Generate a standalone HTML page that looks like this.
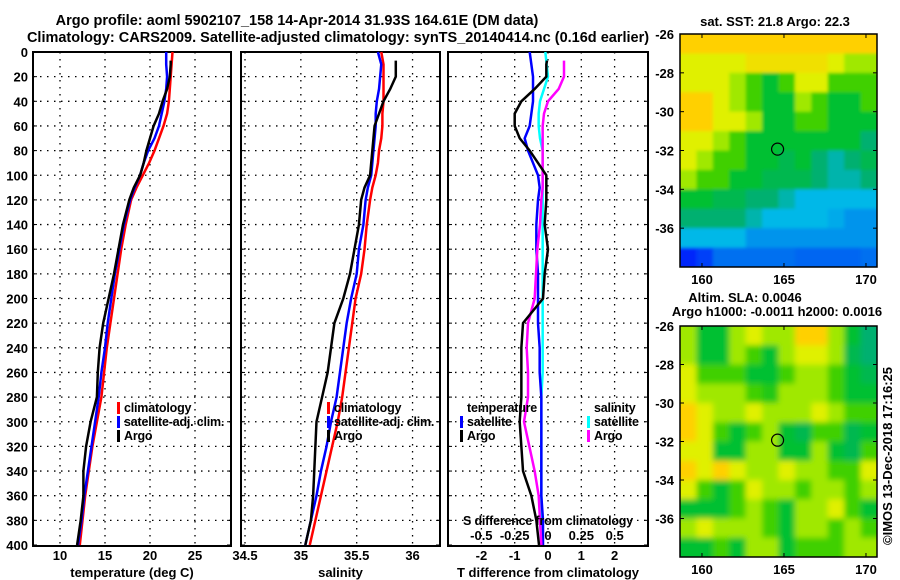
<!DOCTYPE html>
<html><head><meta charset="utf-8"><style>
html,body{margin:0;padding:0;background:#fff;}
svg{display:block;font-family:"Liberation Sans",sans-serif;font-weight:bold;}
text{font-size:13px;fill:#000;}
.lg{font-size:12.5px;letter-spacing:-0.2px;}
.tt{font-size:14.5px;}
</style></head><body>
<svg id="chart" width="900" height="580" viewBox="0 0 900 580">
<defs><filter id="blur2" x="-10%" y="-10%" width="120%" height="120%"><feGaussianBlur stdDeviation="3"/></filter>
<filter id="blur1" x="-10%" y="-10%" width="120%" height="120%"><feGaussianBlur stdDeviation="1.5"/></filter>
<clipPath id="clipm1"><rect x="680" y="34" width="197" height="233"/></clipPath>
<clipPath id="clipm2"><rect x="680" y="326" width="197" height="231"/></clipPath></defs>
<text class="tt" x="297" y="25" text-anchor="middle">Argo profile: aoml 5902107_158 14-Apr-2014 31.93S 164.61E (DM data)</text>
<text class="tt" x="338" y="42" text-anchor="middle">Climatology: CARS2009. Satellite-adjusted climatology: synTS_20140414.nc (0.16d earlier)</text>
<g id="layer"></g>
</svg>
<script>
// ---- data ----
const depths = [0,10,20,30,40,50,60,70,80,90,100,110,120,140,160,180,200,220,240,260,280,300,320,340,360,380,400];
const argoDepths = [7,10,20,30,40,50,60,70,80,90,100,110,120,140,160,180,200,220,240,260,280,300,320,340,360,380,400];
const tempClim = [22.5,22.4,22.3,22.2,22.1,21.9,21.5,21.0,20.5,19.9,19.2,18.5,17.9,17.3,16.8,16.4,16.0,15.6,15.2,14.9,14.6,14.1,13.6,13.2,12.8,12.5,12.2];
const tempSat = [21.8,21.8,21.9,21.8,21.6,21.3,21.0,20.5,19.8,19.3,18.9,18.3,17.8,17.1,16.6,16.1,15.7,15.3,15.0,14.6,14.3,13.9,13.5,13.1,12.7,12.4,12.0];
const tempArgo = [22.3,22.3,22.2,21.9,21.4,21.0,20.4,20.0,19.6,19.3,18.9,18.2,17.7,17.0,16.5,16.0,15.4,14.8,14.4,14.2,14.1,13.4,12.9,12.6,12.6,12.3,11.9];
const salClim = [35.72,35.74,35.74,35.74,35.74,35.73,35.73,35.72,35.70,35.69,35.67,35.64,35.62,35.59,35.57,35.54,35.49,35.46,35.43,35.40,35.37,35.33,35.28,35.23,35.18,35.13,35.08];
const salSat = [35.69,35.72,35.71,35.70,35.68,35.67,35.67,35.66,35.65,35.64,35.63,35.60,35.58,35.56,35.52,35.50,35.45,35.41,35.38,35.35,35.32,35.27,35.23,35.18,35.14,35.09,35.04];
const salArgo = [35.85,35.85,35.85,35.80,35.74,35.70,35.66,35.65,35.64,35.63,35.62,35.57,35.54,35.52,35.48,35.44,35.38,35.30,35.27,35.24,35.19,35.14,35.13,35.12,35.11,35.09,35.04];
const dTSat = [-0.55,-0.5,-0.45,-0.45,-0.45,-0.5,-0.55,-0.7,-0.6,-0.45,-0.3,-0.25,-0.3,-0.35,-0.35,-0.3,-0.3,-0.3,-0.25,-0.25,-0.2,-0.2,-0.2,-0.2,-0.2,-0.15,-0.15];
const dTArgo = [-0.03,-0.05,-0.05,-0.4,-0.8,-1.0,-1.0,-0.85,-0.55,-0.3,-0.05,-0.05,-0.05,-0.1,0,-0.1,-0.15,-0.75,-0.8,-0.8,-0.8,-0.85,-0.8,-0.75,-0.5,-0.35,-0.27];
const dSSat = [-0.02,-0.01,0,-0.03,-0.06,-0.07,-0.07,-0.06,-0.04,-0.04,-0.04,-0.04,-0.04,-0.04,-0.04,-0.04,-0.04,-0.04,-0.04,-0.04,-0.05,-0.05,-0.05,-0.05,-0.05,-0.05,-0.05];
const dSArgo = [0.12,0.12,0.12,0.08,0.0,-0.03,-0.04,-0.04,-0.04,-0.04,-0.04,-0.04,-0.05,-0.06,-0.08,-0.09,-0.1,-0.15,-0.16,-0.15,-0.15,-0.18,-0.14,-0.1,-0.07,-0.06,-0.05];
const depthTicks = [0,20,40,60,80,100,120,140,160,180,200,220,240,260,280,300,320,340,360,380,400];
const tempTicks = [10,15,20,25];
const salTicks = [34.5,35,35.5,36];
const salTickLabels = ["34.5","35","35.5","36"];
const dTTicks = [-2,-1,0,1,2];
const dSTicks = [-0.5,-0.25,0,0.25,0.5];
const dSTickLabels = ["-0.5","-0.25","0","0.25","0.5"];
const latTicks = [-26,-28,-30,-32,-34,-36];
const lonTicks = [160,165,170];
const sstGrid = [
[9,9,9,9,9,9,9,9,9,9,9,9],
[8,8,8,8,8.5,8.5,8.5,8.5,8.5,8,7,7],
[8,8,8,7,6,5,6,8,8,6,6,6],
[9,9,8,7,6,5,5,7,6,5,5,6],
[9,9,8,8,7,5,5,6,6,5,5,5],
[8,8,7,6,5,5,5,5,5,5,5,4],
[8,7,6,6,5,5,4.5,5,4,3.5,4,4.5],
[7,6,6,5,5,4.5,4.5,4.5,4,3.5,3.5,4],
[5,5,4.5,4.5,4,4,3.5,3,3,3,3,3],
[4,4,4,4,3.5,3,3,3,3,2.8,2.5,2.5],
[3,3,3,3,2.5,2.5,2.5,2.5,2.5,2.5,2.5,2.5],
[0.5,1,2,2,2,2,2,1.8,1.8,1.8,1.8,2]];
const slaGrid = [
[7,5,5,7,8,7,7,9,9,7,5,4],
[7,5,5,7,6,5,7,8,8,7,4.5,4],
[8,6,6,6,5,5,6,7,7,6,5,4.5],
[8,7,7,7,6,5.5,7,7,7,6,5,5],
[9,8,7,7,8,7,7,7,8,7,6,6],
[9,8,6,5,6,7,5,4.5,6,6,4.5,5],
[8,8,5,5,7,7,5,5,7,5,4.5,6],
[9,8,9,8,7,7,8,7,7,6,6,8],
[8,6,5,6,8,7,7,6,7,7,6,7],
[5,5,5,6,7,6,5,7,7,8,6,5],
[7,8,7,7,7,6,5,7,7,6,7,6],
[5,5,6,5,7,7,5,6,6,6,7,7]];

// ---- drawing ----
const NS='http://www.w3.org/2000/svg';
const layer=document.getElementById('layer');
function mk(tag,attrs,parent){const e=document.createElementNS(NS,tag);for(const k in attrs)e.setAttribute(k,attrs[k]);(parent||layer).appendChild(e);return e;}
function txt(x,y,s,anchor,parent){const t=mk('text',{x:x,y:y,'text-anchor':anchor||'start'},parent);t.textContent=s;return t;}
const yD=d=>52+d*1.2325;
const xT=t=>60+(t-10)*9;
const xS=s=>245+(s-34.5)*111.7;
const xdT=t=>548+t*33.3;
const xdS=s=>548+s*133.3;

function panel(name,x0,x1,xticks,xfn,labels,title){
  const g=mk('g',{});
  
  
  depthTicks.forEach(d=>{if(d>0&&d<400){mk('line',{x1:x0,x2:x1,y1:yD(d),y2:yD(d),stroke:'#000','stroke-dasharray':'1.5,5.5','stroke-width':1.3},g);}
    mk('line',{x1:x0,x2:x0+4,y1:yD(d),y2:yD(d),stroke:'#000'},g);mk('line',{x1:x1-4,x2:x1,y1:yD(d),y2:yD(d),stroke:'#000'},g);});
  xticks.forEach((v,i)=>{const x=xfn(v);mk('line',{x1:x,x2:x,y1:52,y2:546,stroke:'#000','stroke-dasharray':'1.5,5.5','stroke-width':1.3},g);
    if(labels){const t=txt(x,560,labels[i],'middle',g);}});
  mk('rect',{x:x0,y:52,width:x1-x0,height:494,fill:'none',stroke:'#000','stroke-width':2},g);
  const tt=txt((x0+x1)/2,577,title,'middle',g);
  
  
  return g;
}
function line(name,xs,ds,xfn,color,w){
  const p=mk('polyline',{points:xs.map((v,i)=>xfn(v)+','+yD(ds[i])).join(' '),fill:'none',stroke:color,'stroke-width':w||2.5});
  
  
}
depthTicks.forEach(d=>{const t=txt(28,yD(d)+5,String(d),'end');});

panel('temperature-panel',33,231,tempTicks,xT,tempTicks.map(String),'temperature (deg C)');
line('temp-climatology',tempClim,depths,xT,'#f00');
line('temp-satellite-adj',tempSat,depths,xT,'#00f');
line('temp-argo',tempArgo,argoDepths,xT,'#000');
panel('salinity-panel',241,440,salTicks,xS,salTickLabels,'salinity');
line('sal-climatology',salClim,depths,xS,'#f00');
line('sal-satellite-adj',salSat,depths,xS,'#00f');
line('sal-argo',salArgo,argoDepths,xS,'#000');
panel('difference-panel',448,648,dTTicks,xdT,dTTicks.map(String),'T difference from climatology');
line('dS-satellite',dSSat,depths,xdS,'#0ff');
line('dT-satellite',dTSat,depths,xdT,'#00f');
line('dS-argo',dSArgo,argoDepths,xdS,'#f0f');
line('dT-argo',dTArgo,argoDepths,xdT,'#000');

function legend(name,x,y,items){
  const g=mk('g',{class:'lg'});
  
  
  items.forEach((it,i)=>{const yy=y+i*14;
    if(it[1])mk('rect',{x:x,y:yy-10,width:3,height:12,fill:it[1]},g);
    const t=txt(x+7,yy,it[0],'start',g);t.setAttribute('class','lg');});
}
legend('temp-legend',117,412,[['climatology','#f00'],['satellite-adj. clim.','#00f'],['Argo','#000']]);
legend('sal-legend',327,412,[['climatology','#f00'],['satellite-adj. clim.','#00f'],['Argo','#000']]);
legend('dT-legend',460,412,[['temperature',null],['satellite','#00f'],['Argo','#000']]);
legend('dS-legend',587,412,[['salinity',null],['satellite','#0ff'],['Argo','#f0f']]);
const sd=txt(548,525,'S difference from climatology','middle');sd.setAttribute('class','lg');
dSTicks.forEach((v,i)=>{const t=txt(xdS(v),540,dSTickLabels[i],'middle');});

// ---- maps ----
const stops=[[0,[0,16,255]],[2,[0,112,240]],[3,[0,184,232]],[4,[0,176,112]],[5,[0,192,48]],[6,[64,208,0]],[7,[160,232,0]],[8,[224,240,0]],[9,[255,208,0]],[10,[255,160,0]]];
function col(v){for(let i=1;i<stops.length;i++){if(v<=stops[i][0]){const a=stops[i-1],b=stops[i],f=(v-a[0])/(b[0]-a[0]);return 'rgb('+a[1].map((c,k)=>Math.round(c+(b[1][k]-c)*f)).join(',')+')';}}return 'rgb(255,160,0)';}
function map(name,grid,top,h,filt,clip){
  const g=mk('g',{});
  
  
  const gg=mk('g',{'clip-path':'url(#'+clip+')'},g);
  const gi=mk('g',{filter:'url(#'+filt+')'},gg);
  const cw=197/12,ch=h/12;
  grid.forEach((row,r)=>row.forEach((v,c)=>{
    const cell=mk('rect',{x:680+c*cw-(c===0?8:0),y:top+r*ch-(r===0?8:0),width:cw+0.5+(c===0||c===11?8:0),height:ch+0.5+(r===0||r===11?8:0),fill:col(v)},gi);
    
    
  }));
  const lx=lon=>680+(lon-158.66)*16.4;
  const sy=h/12;
  latTicks.forEach(lat=>{const y=top+(-26-lat)*sy;mk('line',{x1:680,x2:684,y1:y,y2:y,stroke:'#000'},g);mk('line',{x1:873,x2:877,y1:y,y2:y,stroke:'#000'},g);
    const t=txt(674,y+5,String(lat),'end',g);});
  lonTicks.forEach(lon=>{const x=lx(lon);mk('line',{x1:x,x2:x,y1:top,y2:top+4,stroke:'#000'},g);mk('line',{x1:x,x2:x,y1:top+h-4,y2:top+h,stroke:'#000'},g);
    const t=txt(x,top+h+17,String(lon),'middle',g);});
  mk('rect',{x:680,y:top,width:197,height:h,fill:'none',stroke:'#000','stroke-width':1.5},g);
  const c=mk('circle',{cx:lx(164.61),cy:top+(-26+31.93)*sy,r:6,fill:'none',stroke:'#000','stroke-width':1.2},g);
  
  
}
map('sst-map',sstGrid,34,233,'blur1','clipm1');
map('sla-map',slaGrid,326,231,'blur2','clipm2');
const t1=txt(775,26,'sat. SST: 21.8 Argo: 22.3','middle');
const t2=txt(745,302,'Altim. SLA: 0.0046','middle');
const t3=txt(777,316,'Argo h1000: -0.0011 h2000: 0.0016','middle');
const cr=txt(0,0,'©IMOS 13-Dec-2018 17:16:25','middle');cr.setAttribute('transform','translate(892,456) rotate(-90)');


</script>
</body></html>
